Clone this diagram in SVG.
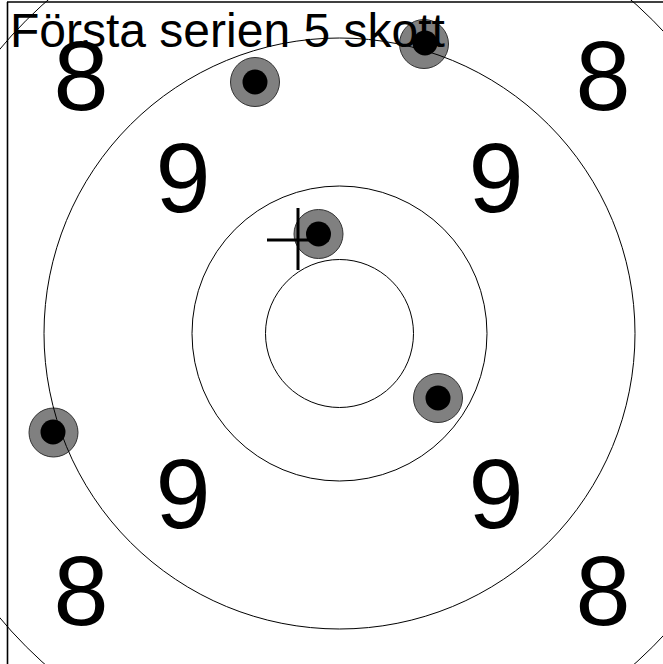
<svg xmlns="http://www.w3.org/2000/svg" width="663" height="664" viewBox="0 0 663 664">
<style>
.ring{fill:none;stroke:#000;stroke-width:1}
.hole{fill:#808080;stroke:#333;stroke-width:1}
.core{fill:#000}
.num{font-family:"Liberation Sans",Arial,sans-serif;font-size:99px;text-anchor:middle;fill:#000}
.title{font-family:"Liberation Sans",Arial,sans-serif;font-size:48px;fill:#000}
</style>
<rect width="663" height="664" fill="#fff"/>
<g id="frame" stroke="#000" stroke-width="1.6" fill="none">
<line x1="7.5" y1="2" x2="7.5" y2="664"/>
<line x1="7" y1="2" x2="663" y2="2"/>
</g>
<g id="shots">
<circle class="hole" cx="424" cy="44" r="24.5"/>
<circle class="hole" cx="255" cy="82" r="24.5"/>
<circle class="hole" cx="318.5" cy="234" r="24.5"/>
<circle class="hole" cx="438" cy="398" r="24.5"/>
<circle class="hole" cx="53.5" cy="432.5" r="24.5"/>
</g>
<g id="aim" stroke="#000" stroke-width="3">
<line x1="298" y1="208" x2="298" y2="270"/>
<line x1="267" y1="240" x2="329" y2="240"/>
</g>
<g id="cores">
<circle class="core" cx="425" cy="43" r="12.5"/>
<circle class="core" cx="255" cy="82" r="12.5"/>
<circle class="core" cx="318.5" cy="234" r="12.5"/>
<circle class="core" cx="438" cy="398" r="12.5"/>
<circle class="core" cx="53" cy="432" r="12.5"/>
</g>
<g id="rings">
<circle class="ring" cx="339.5" cy="333.5" r="74"/>
<circle class="ring" cx="339.5" cy="333.5" r="147.5"/>
<circle class="ring" cx="339.5" cy="333.5" r="295.5"/>
<circle class="ring" cx="339.5" cy="333.5" r="443"/>
</g>
<g id="labels">
<text class="num" x="81" y="110">8</text>
<text class="num" x="603" y="110">8</text>
<text class="num" x="183" y="212">9</text>
<text class="num" x="496" y="212">9</text>
<text class="num" x="183" y="528">9</text>
<text class="num" x="496" y="528">9</text>
<text class="num" x="81" y="625">8</text>
<text class="num" x="603" y="625">8</text>
</g>
<text class="title" x="10" y="47">Första serien 5 skott</text>
</svg>
